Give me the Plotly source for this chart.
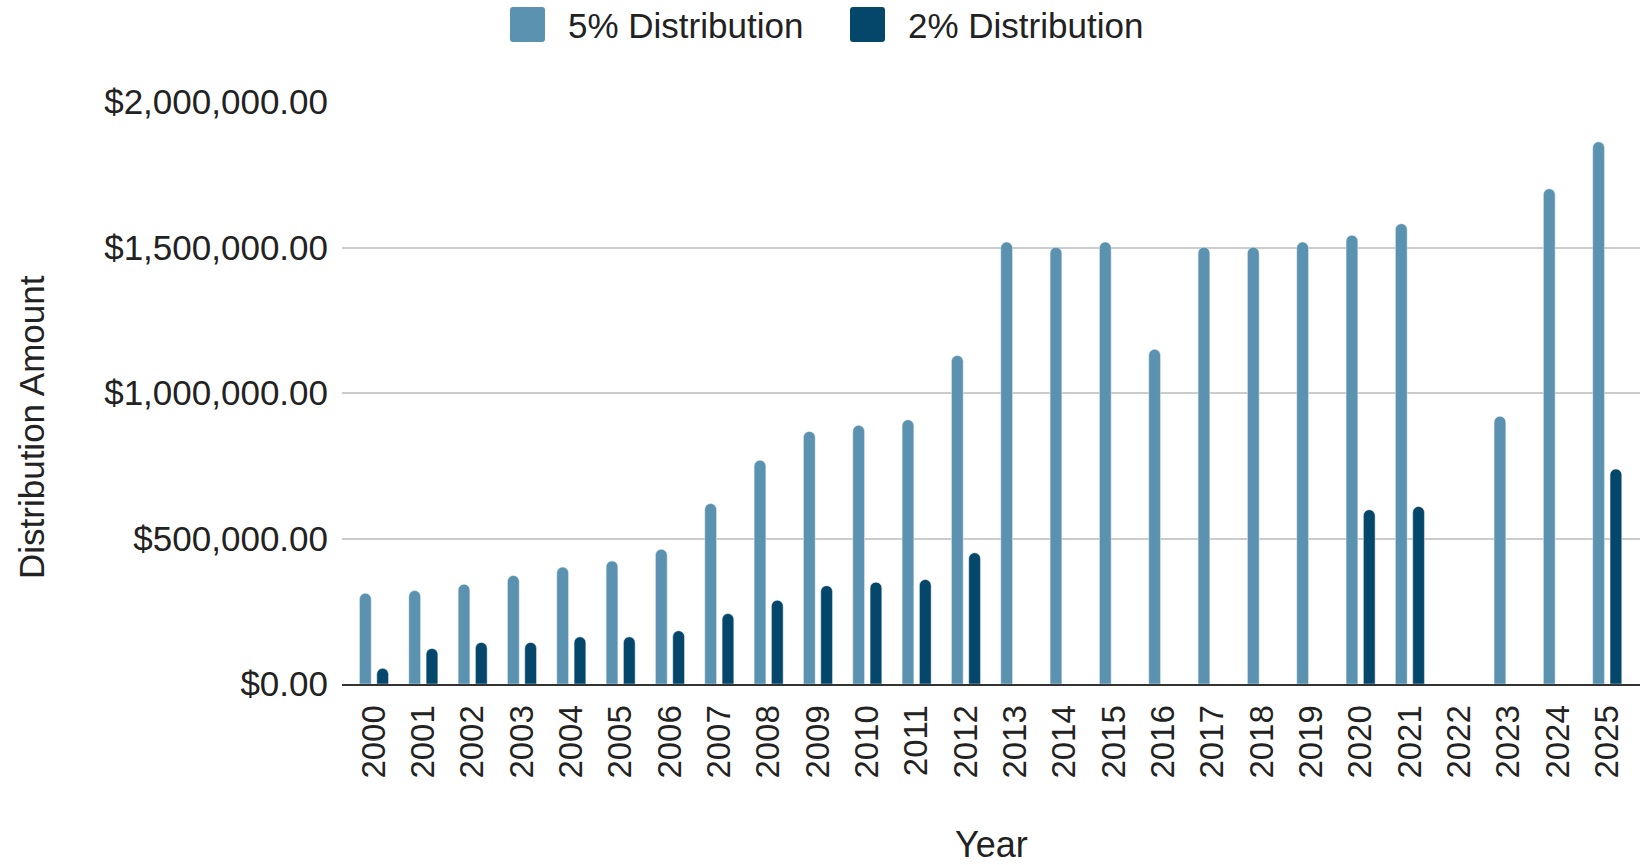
import plotly.graph_objects as go

years = [str(y) for y in range(2000, 2026)]
five_pct = [312000, 321000, 343000, 373000, 402000, 423000, 463000, 620000, 769000, 868000,
            889000, 908000, 1129000, 1519000, 1501000, 1519000, 1150000, 1501000, 1501000, 1519000,
            1542000, 1582000, None, 920000, 1702000, 1863000]
two_pct = [54000, 122000, 143000, 143000, 162000, 162000, 183000, 242000, 288000, 338000,
           350000, 359000, 451000, None, None, None, None, None, None, None,
           599000, 610000, None, None, None, 739000]
series_names = ["5% Distribution", "2% Distribution"]
series_colors = ["#5a92b0", "#05476a"]
y_ticks = [0, 500000, 1000000, 1500000, 2000000]

W, H = 1649, 865
L, R, T, B = 342, 9, 102, 181
PW, PH = W - L - R, H - T - B

FONT = "Liberation Sans, Arial, sans-serif"

fig = go.Figure()
for name, vals, col in zip(series_names, [five_pct, two_pct], series_colors):
    fig.add_trace(go.Bar(x=years, y=vals, name=name, marker=dict(color=col, cornerradius="50%"),
                         showlegend=False))

def px_x(p):
    return (p - L) / PW

def px_y(p):
    return (H - B - p) / PH

def rounded_rect(x0, y0, x1, y1, r):
    # pixel coordinates -> paper-coordinate SVG path with rounded corners
    pts = []
    X = lambda v: f"{px_x(v):.5f}"
    Y = lambda v: f"{px_y(v):.5f}"
    p = (f"M {X(x0 + r)},{Y(y0)} L {X(x1 - r)},{Y(y0)} Q {X(x1)},{Y(y0)} {X(x1)},{Y(y0 + r)} "
         f"L {X(x1)},{Y(y1 - r)} Q {X(x1)},{Y(y1)} {X(x1 - r)},{Y(y1)} "
         f"L {X(x0 + r)},{Y(y1)} Q {X(x0)},{Y(y1)} {X(x0)},{Y(y1 - r)} "
         f"L {X(x0)},{Y(y0 + r)} Q {X(x0)},{Y(y0)} {X(x0 + r)},{Y(y0)} Z")
    return p

# custom legend (large rounded swatches)
legend_x = [510, 850]
shapes = []
annotations = []
for lx, name, col in zip(legend_x, series_names, series_colors):
    shapes.append(dict(type="path", xref="paper", yref="paper",
                       path=rounded_rect(lx, 7, lx + 35, 42, 3),
                       fillcolor=col, line=dict(width=0), layer="above"))
    annotations.append(dict(text=name, xref="paper", yref="paper", x=px_x(lx + 56), y=px_y(25),
                            xanchor="left", yanchor="middle", showarrow=False,
                            font=dict(family=FONT, size=35, color="#222222")))

annotations.append(dict(text="Distribution Amount", xref="paper", yref="paper",
                        x=px_x(31), y=px_y(427), textangle=-90, xanchor="center", yanchor="middle",
                        showarrow=False, font=dict(family=FONT, size=35, color="#222222")))
annotations.append(dict(text="Year", xref="paper", yref="paper",
                        x=0.5, y=px_y(844), xanchor="center", yanchor="middle",
                        showarrow=False, font=dict(family=FONT, size=36, color="#222222")))

cat_w = 49.33
left_pad = (374 - L) / cat_w

fig.update_layout(
    width=W, height=H,
    margin=dict(l=L, r=R, t=T, b=B, pad=0),
    paper_bgcolor="white", plot_bgcolor="white",
    barmode="group", bargap=0.2986, bargroupgap=0.324,
    font=dict(family=FONT, color="#222222"),
    shapes=shapes, annotations=annotations,
    xaxis=dict(type="category", range=[-left_pad, -left_pad + PW / cat_w],
               tickangle=-90, tickfont=dict(size=33, family=FONT, color="#222222"),
               showline=True, linecolor="#333333", linewidth=2, showgrid=False,
               ticks="", ticklabelstandoff=6),
    yaxis=dict(range=[0, 2000000], tickvals=y_ticks, tickformat="$,.2f",
               tickfont=dict(size=35, family=FONT, color="#222222"),
               showgrid=True, gridcolor="#cccccc", gridwidth=2, zeroline=False,
               showline=False, ticks="", ticklabelstandoff=13),
)

fig.write_html("out.html")
